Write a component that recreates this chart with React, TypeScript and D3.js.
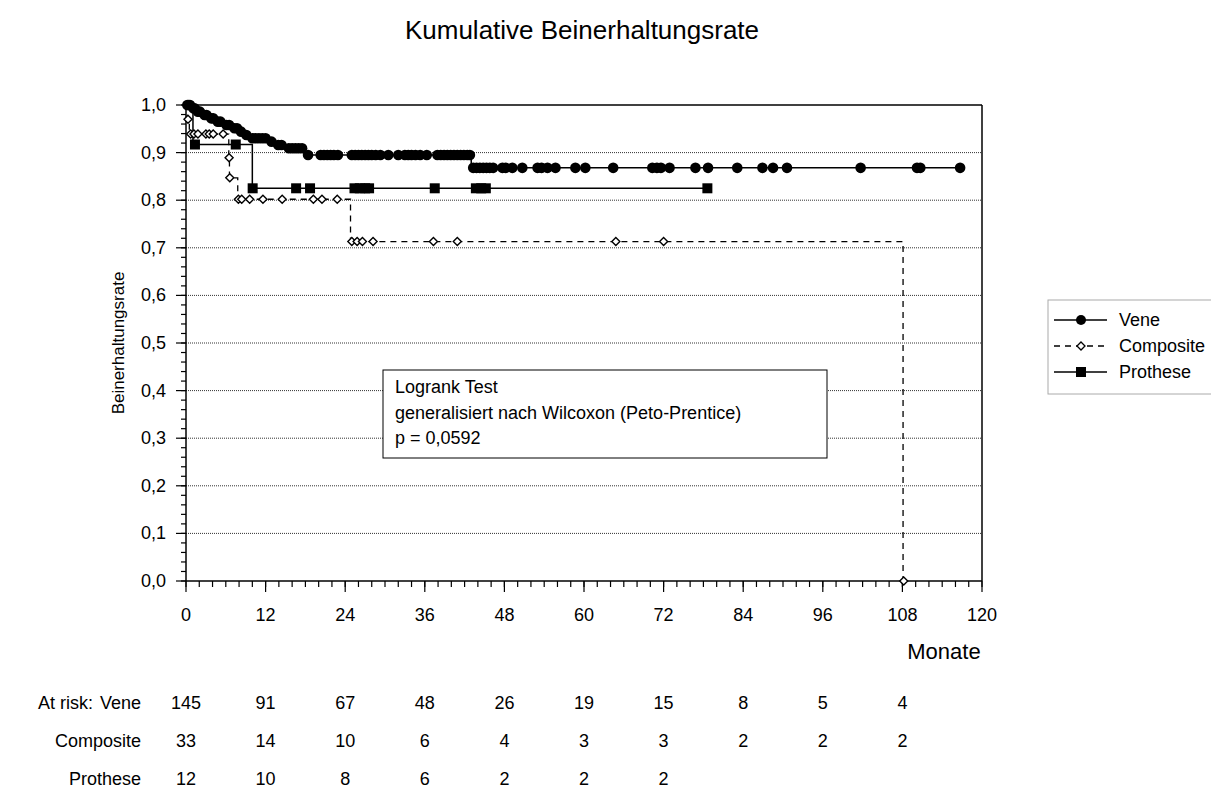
import React from "react";
import * as d3 from "d3";

const title = "Kumulative Beinerhaltungsrate";
const yTitle = "Beinerhaltungsrate";
const xTitle = "Monate";

const xTickValues = [0, 12, 24, 36, 48, 60, 72, 84, 96, 108, 120];
const yTickValues = [0, 0.1, 0.2, 0.3, 0.4, 0.5, 0.6, 0.7, 0.8, 0.9, 1.0];

// Vene (filled circles, solid)
const veneStepTimes = [0, 0.8, 1.5, 2.5, 3.5, 4.5, 5.8, 7.0, 8.0, 8.8, 9.5, 12.5, 13.5, 15.0, 18.0, 43.0];
const veneStepSurv = [1.0, 0.993, 0.986, 0.979, 0.972, 0.965, 0.958, 0.951, 0.944, 0.937, 0.93, 0.923, 0.916, 0.909, 0.895, 0.868];
const veneEnd = 116.7;
const veneCensored = [0.2, 0.4, 0.6, 1.1, 1.3, 1.8, 2.1, 2.8, 3.1, 3.8, 4.1, 4.8, 5.2, 6.1, 6.5, 7.3, 7.7, 8.3, 9.1, 10, 10.5, 11, 11.5, 12, 12.9, 13.9, 14.4, 15.5, 16, 16.5, 17, 17.5, 18.4, 20.3, 20.8, 21.3, 21.8, 22.3, 22.9, 25, 25.5, 26, 26.5, 27, 27.5, 28, 28.6, 29.3, 30.5, 32, 33, 33.5, 34, 34.6, 35.3, 36.3, 37.9, 38.4, 38.9, 39.4, 39.9, 40.4, 40.9, 41.4, 41.9, 42.4, 42.8, 43.3, 43.8, 44.3, 44.8, 45.3, 45.8, 46.3, 47.7, 48.2, 49.2, 50.7, 53, 53.6, 54.5, 55.7, 58.7, 60.2, 64.4, 70.3, 71, 71.6, 72.9, 76.8, 78.7, 83.1, 86.9, 88.5, 90.6, 101.7, 110.2, 110.7, 116.7];

// Composite (open diamonds, dashed)
const compStepTimes = [0, 0.2, 0.5, 6.45, 6.55, 7.8, 24.8, 108.1];
const compStepSurv = [1.0, 0.97, 0.939, 0.889, 0.847, 0.802, 0.713, 0.0];
const compEnd = 108.2;
const compCensored = [0.3, 0.7, 1.2, 1.8, 3.0, 3.5, 4.1, 5.6, 6.5, 6.6, 7.9, 8.4, 9.6, 11.6, 14.5, 19.2, 20.5, 22.8, 25.0, 25.8, 26.6, 28.2, 37.3, 40.9, 64.8, 72.0, 108.2];

// Prothese (filled squares, solid)
const protStepTimes = [0, 1.05, 10.0];
const protStepSurv = [1.0, 0.917, 0.825];
const protEnd = 78.6;
const protCensored = [1.35, 7.5, 10.05, 16.6, 18.7, 25.4, 26.2, 27.0, 27.6, 37.5, 43.7, 44.5, 45.2, 78.6];

const groups = ["Vene", "Composite", "Prothese"];
const riskMonths = [0, 12, 24, 36, 48, 60, 72, 84, 96, 108];
const riskVene = [145, 91, 67, 48, 26, 19, 15, 8, 5, 4];
const riskComposite = [33, 14, 10, 6, 4, 3, 3, 2, 2, 2];
const riskProthese = [12, 10, 8, 6, 2, 2, 2];

const logrankLines = ["Logrank Test", "generalisiert nach Wilcoxon (Peto-Prentice)", "p = 0,0592"];

const FONT = "'Liberation Sans', Arial, Helvetica, sans-serif";

function survAt(times: number[], surv: number[], t: number) {
  const i = d3.bisectRight(times, t) - 1;
  return surv[Math.max(0, i)];
}

export default function App() {
  const W = 1211, H = 789;
  const x = d3.scaleLinear().domain([0, 120]).range([186, 982]);
  const y = d3.scaleLinear().domain([0, 1]).range([581, 105]);

  const stepPath = (times: number[], surv: number[], end: number) => {
    const pts: [number, number][] = times.map((t, i) => [t, surv[i]]);
    pts.push([end, surv[surv.length - 1]]);
    return d3.line<[number, number]>().x(d => x(d[0])).y(d => y(d[1])).curve(d3.curveStepAfter)(pts) || "";
  };

  const minorX = d3.range(0, 121, 2);
  const minorY = d3.range(0, 101, 2).map(v => v / 100);

  const diamond = (cx: number, cy: number, r: number) =>
    `M${cx},${cy - r}L${cx + r},${cy}L${cx},${cy + r}L${cx - r},${cy}Z`;

  const riskRows = [riskVene, riskComposite, riskProthese];
  const riskY = [709, 747, 785];

  const legY = [320, 346, 372];

  return (
    <svg width={W} height={H} style={{ position: "absolute", left: 0, top: 0, background: "#fff" }} fontFamily={FONT}>
      <rect x={0} y={0} width={W} height={H} fill="#fff" />
      <text x={582} y={39} textAnchor="middle" fontSize={26}>{title}</text>

      {/* grid */}
      {yTickValues.filter(v => v > 0 && v < 1).map(v => (
        <line key={"g" + v} x1={x(0)} x2={x(120)} y1={y(v)} y2={y(v)} stroke="#333" strokeWidth={1} strokeDasharray="1,1" />
      ))}
      {/* frame top/right */}
      <line x1={x(0)} x2={x(120)} y1={y(1)} y2={y(1)} stroke="#000" strokeWidth={1.5} />
      <line x1={x(120)} x2={x(120)} y1={y(1)} y2={y(0)} stroke="#000" strokeWidth={1.5} />

      {/* axes */}
      <line x1={x(0)} x2={x(0)} y1={y(1) - 1} y2={y(0)} stroke="#000" strokeWidth={1.5} />
      <line x1={x(0)} x2={x(120)} y1={y(0)} y2={y(0)} stroke="#000" strokeWidth={1.5} />
      {minorY.map(v => (
        <line key={"my" + v} x1={x(0) - 5} x2={x(0)} y1={y(v)} y2={y(v)} stroke="#000" strokeWidth={1.2} />
      ))}
      {yTickValues.map(v => (
        <g key={"yt" + v}>
          <line x1={x(0) - 10} x2={x(0)} y1={y(v)} y2={y(v)} stroke="#000" strokeWidth={1.2} />
          <text x={166} y={y(v) + 6} textAnchor="end" fontSize={18}>{d3.format(".1f")(v).replace(".", ",")}</text>
        </g>
      ))}
      {minorX.map(v => (
        <line key={"mx" + v} x1={x(v)} x2={x(v)} y1={y(0)} y2={y(0) + 6} stroke="#000" strokeWidth={1.2} />
      ))}
      {xTickValues.map(v => (
        <g key={"xt" + v}>
          <line x1={x(v)} x2={x(v)} y1={y(0)} y2={y(0) + 11} stroke="#000" strokeWidth={1.2} />
          <text x={x(v)} y={621} textAnchor="middle" fontSize={18}>{v}</text>
        </g>
      ))}
      <text x={944} y={659} textAnchor="middle" fontSize={22}>{xTitle}</text>
      <text transform={`translate(124,${343}) rotate(-90)`} textAnchor="middle" fontSize={17}>{yTitle}</text>

      {/* curves */}
      <path d={stepPath(compStepTimes, compStepSurv, compEnd)} fill="none" stroke="#000" strokeWidth={1.3} strokeDasharray="6,5" />
      <path d={stepPath(protStepTimes, protStepSurv, protEnd)} fill="none" stroke="#000" strokeWidth={1.5} />
      <path d={stepPath(veneStepTimes, veneStepSurv, veneEnd)} fill="none" stroke="#000" strokeWidth={1.5} />

      {compCensored.map((t, i) => (
        <path key={"c" + i} d={diamond(x(t), y(survAt(compStepTimes, compStepSurv, t)), 4)} fill="#fff" stroke="#000" strokeWidth={1.4} />
      ))}
      {protCensored.map((t, i) => (
        <rect key={"p" + i} x={x(t) - 5} y={y(survAt(protStepTimes, protStepSurv, t)) - 5} width={10} height={10} fill="#000" />
      ))}
      {veneCensored.map((t, i) => (
        <circle key={"v" + i} cx={x(t)} cy={y(survAt(veneStepTimes, veneStepSurv, t))} r={5.3} fill="#000" />
      ))}

      {/* logrank box */}
      <rect x={383} y={370} width={444} height={88} fill="#fff" stroke="#000" strokeWidth={1} />
      {logrankLines.map((s, i) => (
        <text key={"lr" + i} x={395} y={393 + i * 25.5} fontSize={18}>{s}</text>
      ))}

      {/* legend */}
      <rect x={1048} y={300} width={175} height={94} fill="#fff" stroke="#aaa" strokeWidth={1} />
      {groups.map((g, i) => {
        const ly = legY[i];
        return (
          <g key={"lg" + g}>
            <line x1={1054} x2={1107} y1={ly} y2={ly} stroke="#000" strokeWidth={1.5} strokeDasharray={g === "Composite" ? "6,5" : undefined} />
            {g === "Vene" && <circle cx={1081} cy={ly} r={5} fill="#000" />}
            {g === "Composite" && <path d={diamond(1081, ly, 4)} fill="#fff" stroke="#000" strokeWidth={1.3} />}
            {g === "Prothese" && <rect x={1076} y={ly - 5} width={10} height={10} fill="#000" />}
            <text x={1119} y={ly + 6} fontSize={18}>{g}</text>
          </g>
        );
      })}

      {/* at risk table */}
      <text x={38} y={riskY[0]} fontSize={18}>At risk:</text>
      {groups.map((g, gi) => (
        <g key={"rk" + g}>
          <text x={141} y={riskY[gi]} textAnchor="end" fontSize={18}>{g}</text>
          {riskRows[gi].map((n, i) => (
            <text key={i} x={x(riskMonths[i])} y={riskY[gi]} textAnchor="middle" fontSize={18}>{n}</text>
          ))}
        </g>
      ))}
    </svg>
  );
}
